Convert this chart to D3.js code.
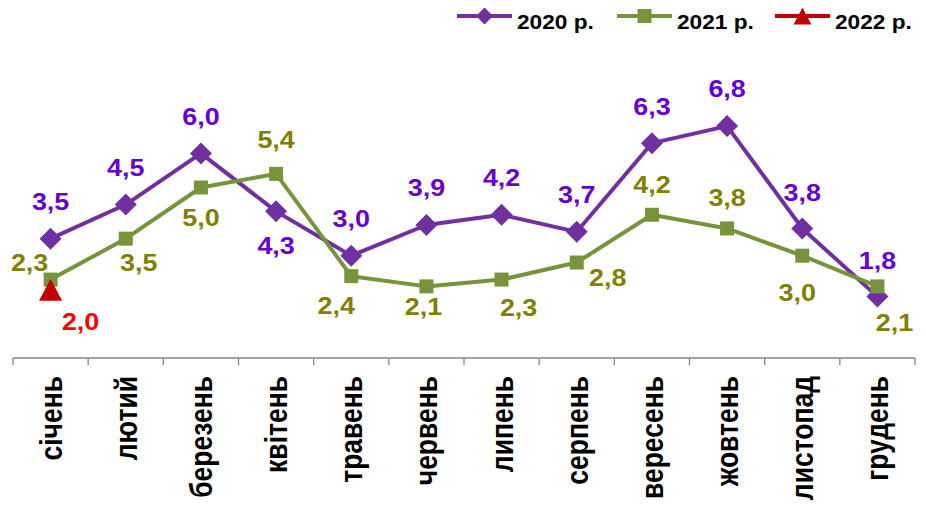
<!DOCTYPE html>
<html>
<head>
<meta charset="utf-8">
<script src="https://cdn.jsdelivr.net/npm/d3@7"></script>
<style>
    html, body { margin: 0; padding: 0; background: #fff; }
    svg { display: block; font-family: "Liberation Sans", Arial, sans-serif; font-weight: bold; }
</style>
</head>
<body>
<div class="osvg"></div>
<script>
var months = ['січень', 'лютий', 'березень', 'квітень', 'травень', 'червень',
    'липень', 'серпень', 'вересень', 'жовтень', 'листопад', 'грудень'];
var values2020 = [3.5, 4.5, 6.0, 4.3, 3.0, 3.9, 4.2, 3.7, 6.3, 6.8, 3.8, 1.8];
var values2021 = [2.3, 3.5, 5.0, 5.4, 2.4, 2.1, 2.3, 2.8, 4.2, 3.8, 3.0, 2.1];
var values2022 = [2.0];
var seriesNames = ['2020 р.', '2021 р.', '2022 р.'];

// where each value label sits relative to its point (centre of text)
var labelPos2020 = [[0,-37],[0,-37],[0,-37],[0,34],[0,-37],[0,-37],[0,-37],[0,-37],[0,-36],[0,-37],[0,-36],[0,-36]];
var labelPos2021 = [[-21,-17],[13,24],[0,30],[0,-34],[-15,30],[-3,20],[17,28],[31,15],[0,-30],[0,-31],[-5,37],[17,36]];
var labelPos2022 = [[30,32]];

var W = 926, H = 506;
var SX = 1.17; // text in the picture is a bit wider than tall

var x = d3.scaleBand().domain(months).range([13, 915]).padding(0);
var y = d3.scaleLinear().domain([0, 10]).range([358, 17]);

var svg = d3.select('.osvg').append('svg')
    .attr('width', W)
    .attr('height', H);

var shapes = {
    diamond: function (r) { return 'M0,' + (-r) + 'L' + r + ',0L0,' + r + 'L' + (-r) + ',0Z'; },
    square: function (r) { return 'M' + (-r) + ',' + (-r) + 'H' + r + 'V' + r + 'H' + (-r) + 'Z'; },
    triangle: function (r) { return 'M0,' + (-r) + 'L' + (r * 1.05) + ',' + r + 'L' + (-r * 1.05) + ',' + r + 'Z'; }
};

var series = [
    { name: seriesNames[0], values: values2020, pos: labelPos2020, line: '#7030A0', label: '#6600CC', shape: 'diamond', r: 11, lr: 8.5 },
    { name: seriesNames[1], values: values2021, pos: labelPos2021, line: '#77933C', label: '#808000', shape: 'square', r: 7, lr: 7 },
    { name: seriesNames[2], values: values2022, pos: labelPos2022, line: '#C00000', label: '#FF0000', shape: 'triangle', r: 11, lr: 8.5 }
];

function cx(i) { return x(months[i]) + x.bandwidth() / 2; }

// axis
var axis = svg.append('g').attr('class', 'axis');
axis.append('line')
    .attr('x1', x.range()[0]).attr('x2', x.range()[1])
    .attr('y1', y(0)).attr('y2', y(0))
    .attr('stroke', '#868686').attr('stroke-width', 1.3);
var bounds = months.map(function (m) { return x(m); }).concat([x.range()[1]]);
axis.selectAll('.tick')
    .data(bounds)
    .enter().append('line')
    .attr('x1', function (d) { return d; }).attr('x2', function (d) { return d; })
    .attr('y1', y(0)).attr('y2', y(0) + 7)
    .attr('stroke', '#868686').attr('stroke-width', 1.3);

axis.selectAll('.cat')
    .data(months)
    .enter().append('g')
    .attr('transform', function (d, i) { return 'translate(' + (cx(i) + 11) + ',' + 376 + ') scale(' + SX + ',1) rotate(-90)'; })
    .append('text')
    .attr('text-anchor', 'end')
    .attr('font-size', 26.5)
    .attr('fill', '#000')
    .text(function (d) { return d; });

// lines and markers
series.forEach(function (s) {
    var pts = s.values.map(function (v, i) { return [cx(i), y(v)]; });
    var g = svg.append('g');
    g.append('path')
        .datum(pts)
        .attr('fill', 'none')
        .attr('stroke', s.line)
        .attr('stroke-width', 4)
        .attr('stroke-linejoin', 'round')
        .attr('d', d3.line());
    g.selectAll('.mark')
        .data(pts)
        .enter().append('path')
        .attr('transform', function (d) { return 'translate(' + d[0] + ',' + d[1] + ')'; })
        .attr('fill', s.line)
        .attr('d', shapes[s.shape](s.r));
});

// value labels
series.forEach(function (s) {
    svg.append('g').selectAll('g')
        .data(s.values)
        .enter().append('g')
        .attr('transform', function (v, i) {
            return 'translate(' + (cx(i) + s.pos[i][0]) + ',' + (y(v) + s.pos[i][1] + 8.2) + ') scale(' + SX + ',1)';
        })
        .append('text')
        .attr('text-anchor', 'middle')
        .attr('font-size', 23)
        .attr('fill', s.label)
        .text(function (v) { return d3.format('.1f')(v).replace('.', ','); });
});

// legend
var legendX = [457, 617, 775];
var legend = svg.append('g').attr('class', 'legend');
series.forEach(function (s, k) {
    var lg = legend.append('g').attr('transform', 'translate(' + legendX[k] + ',16)');
    lg.append('line')
        .attr('x1', 0).attr('x2', 55)
        .attr('y1', 0).attr('y2', 0)
        .attr('stroke', s.line).attr('stroke-width', 4);
    lg.append('path')
        .attr('transform', 'translate(27.5,0)')
        .attr('fill', s.line)
        .attr('d', shapes[s.shape](s.lr));
    lg.append('g')
        .attr('transform', 'translate(60,12.5) scale(1.08,1)')
        .append('text')
        .attr('font-size', 21)
        .attr('fill', '#000')
        .text(s.name);
});
</script>
</body>
</html>
